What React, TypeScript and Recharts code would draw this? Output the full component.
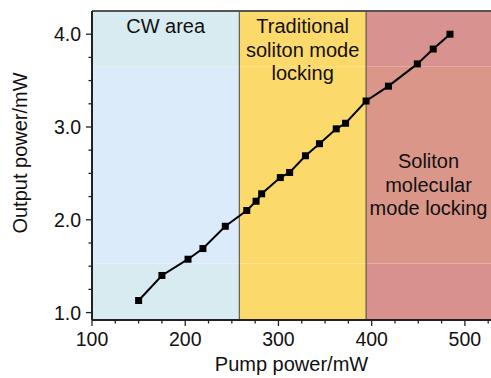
import { Label, Line, LineChart, ReferenceArea, ReferenceLine, XAxis, YAxis } from 'recharts';

const pump = [150, 175, 203, 219, 243, 266, 276, 282, 302, 312, 329, 344, 362, 372, 394, 418, 449, 466, 484];
const output = [1.13, 1.4, 1.575, 1.69, 1.93, 2.1, 2.2, 2.28, 2.455, 2.51, 2.69, 2.82, 2.98, 3.04, 3.28, 3.44, 3.68, 3.84, 4.0];

const xTicks = [100, 125, 150, 175, 200, 225, 250, 275, 300, 325, 350, 375, 400, 425, 450, 475, 500, 525];
const yTicks = [1.0, 1.25, 1.5, 1.75, 2.0, 2.25, 2.5, 2.75, 3.0, 3.25, 3.5, 3.75, 4.0];

const regionEdges = [100, 258, 394, 528];
const regionLabels = [['CW area'], ['Traditional', 'soliton mode', 'locking'], ['Soliton', 'molecular', 'mode locking']];

const data = pump.map((p, i) => ({ pump: p, output: output[i] }));

const FONT = 'Arial, "Liberation Sans", sans-serif';
const Y_MIN = 0.92;
const Y_MAX = 4.25;

// colour bands per region (top / middle / bottom), mimicking the scanned figure
const bands = [
  ['#d8ebf1', '#dbebfa', '#d8ebf1'],
  ['#fcd96b', '#fcd96b', '#fcd96b'],
  ['#d8918f', '#da9789', '#d8928f'],
];
const bandEdges = [Y_MIN, 1.53, 3.65, Y_MAX];

function XTick({ x, y, payload }: any) {
  const major = payload.value % 100 === 0;
  return (
    <g>
      <line x1={x} x2={x} y1={y} y2={y + (major ? 6 : 3.5)} stroke="#222" strokeWidth={1.3} />
      {major && (
        <text x={x} y={y + 26} textAnchor="middle" fontSize={19.5} fontFamily={FONT} fill="#111">
          {payload.value}
        </text>
      )}
    </g>
  );
}

function YTick({ x, y, payload }: any) {
  const major = Math.abs(payload.value - Math.round(payload.value)) < 1e-6;
  return (
    <g>
      <line x1={x} x2={x - (major ? 6 : 3.5)} y1={y} y2={y} stroke="#222" strokeWidth={1.3} />
      {major && (
        <text x={x - 11} y={y + 7} textAnchor="end" fontSize={19.5} fontFamily={FONT} fill="#111">
          {payload.value.toFixed(1)}
        </text>
      )}
    </g>
  );
}

function regionText(lines: string[], baseline: number) {
  return ({ viewBox }: any) => {
    const cx = viewBox.x + viewBox.width / 2;
    return (
      <text textAnchor="middle" fontSize={20} fontFamily={FONT} fill="#111">
        {lines.map((t, i) => (
          <tspan key={t} x={cx} y={baseline + i * 23.5}>
            {t}
          </tspan>
        ))}
      </text>
    );
  };
}

const baselines = [33, 33, 168];

export default function App() {
  return (
    <div style={{ position: 'absolute', left: 0, top: 0, width: 491, height: 378, background: '#fff' }}>
      <LineChart width={491} height={378} data={data} margin={{ top: 11, right: 0, bottom: 0, left: 0 }}>
        {regionEdges.slice(0, 3).map((x1, r) =>
          bands[r].map((c, b) => (
            <ReferenceArea
              key={`${r}-${b}`}
              x1={x1}
              x2={regionEdges[r + 1]}
              y1={bandEdges[b]}
              y2={bandEdges[b + 1]}
              fill={c}
              fillOpacity={1}
              stroke="none"
              ifOverflow="hidden"
            />
          ))
        )}
        {regionEdges.slice(0, 3).map((x1, r) => (
          <ReferenceArea
            key={`lbl-${r}`}
            x1={x1}
            x2={regionEdges[r + 1]}
            y1={Y_MIN}
            y2={Y_MAX}
            fill="none"
            stroke="none"
            label={regionText(regionLabels[r], baselines[r])}
          />
        ))}
        <ReferenceLine x={258} stroke="#444" strokeWidth={1} />
        <ReferenceLine x={394} stroke="#444" strokeWidth={1} />
        <ReferenceLine y={Y_MAX} stroke="#555" strokeWidth={2} />
        <XAxis
          dataKey="pump"
          type="number"
          domain={[100, 528]}
          ticks={xTicks}
          interval={0}
          height={58}
          tickSize={0}
          tickMargin={0}
          tickLine={false}
          tick={<XTick />}
          axisLine={{ stroke: '#222', strokeWidth: 2 }}
          allowDataOverflow
        >
          <Label
            content={({ viewBox }: any) => (
              <text
                x={viewBox.x + viewBox.width / 2}
                y={371}
                textAnchor="middle"
                fontSize={20}
                fontFamily={FONT}
                fill="#111"
              >
                Pump power/mW
              </text>
            )}
          />
        </XAxis>
        <YAxis
          type="number"
          domain={[Y_MIN, Y_MAX]}
          ticks={yTicks}
          interval={0}
          width={92}
          tickSize={0}
          tickMargin={0}
          tickLine={false}
          tick={<YTick />}
          axisLine={{ stroke: '#222', strokeWidth: 2 }}
          allowDataOverflow
        >
          <Label
            content={() => (
              <text
                x={27}
                y={153}
                transform="rotate(-90 27 153)"
                textAnchor="middle"
                fontSize={20}
                fontFamily={FONT}
                fill="#111"
              >
                Output power/mW
              </text>
            )}
          />
        </YAxis>
        <Line
          type="linear"
          dataKey="output"
          stroke="#000"
          strokeWidth={2}
          isAnimationActive={false}
          dot={({ cx, cy, index }: any) => <rect key={index} x={cx - 3.5} y={cy - 3.5} width={7} height={7} fill="#000" />}
          activeDot={false}
        />
      </LineChart>
    </div>
  );
}
